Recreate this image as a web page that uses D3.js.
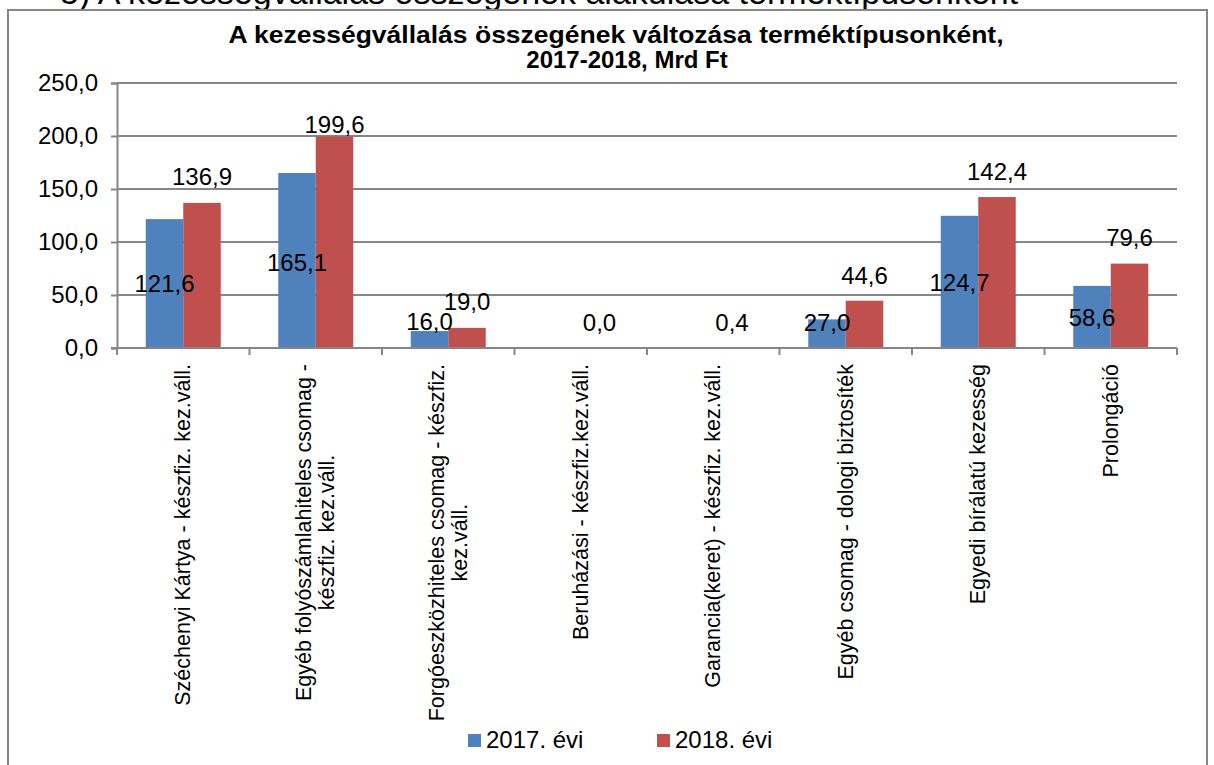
<!DOCTYPE html>
<html>
<head>
<meta charset="utf-8">
<script src="https://cdn.jsdelivr.net/npm/d3@7"></script>
<style>
  body { margin: 0; background: #fff; }
  text { font-family: "Liberation Sans", Arial, sans-serif; fill: #000; }
</style>
</head>
<body>
<div id="chart"></div>
<script>
"use strict";

const categories = [
  ["Széchenyi Kártya - készfiz. kez.váll."],
  ["Egyéb folyószámlahiteles csomag -", "készfiz. kez.váll."],
  ["Forgóeszközhiteles csomag - készfiz.", "kez.váll."],
  ["Beruházási - készfiz.kez.váll."],
  ["Garancia(keret) - készfiz. kez.váll."],
  ["Egyéb csomag - dologi biztosíték"],
  ["Egyedi bírálatú kezesség"],
  ["Prolongáció"]
];
const series = ["2017. évi", "2018. évi"];
const values2017 = [121.6, 165.1, 16.0, null, null, 27.0, 124.7, 58.6];
const values2018 = [136.9, 199.6, 19.0, 0.0, 0.4, 44.6, 142.4, 79.6];
const yTicks = [0, 50, 100, 150, 200, 250];

// the data labels were hand placed in the original, so keep where they sit (in axis units)
const labelAt2017 = [61, 81, 24.5, null, null, 23.5, 62, 29];
const labelAt2018 = [161.3, 210.4, 43.4, 23.6, 23.6, 67.9, 166, 103.8];

const colors = ["#4F81BD", "#C0504D"];
const fmt = v => d3.format(".1f")(v).replace(".", ",");

const width = 1214, height = 765;
const svg = d3.select("#chart")
  .append("svg")
  .attr("width", width)
  .attr("height", height);

svg.append("rect").attr("width", width).attr("height", height).attr("fill", "#fff");

// heading of the page, cut off by the top edge
svg.append("text")
  .attr("x", 60).attr("y", 4)
  .style("font-size", "34px")
  .text("5) A kezességvállalás összegének alakulása terméktípusonként");

// chart frame
svg.append("rect")
  .attr("x", 8).attr("y", 10)
  .attr("width", 1199).attr("height", 770)
  .attr("fill", "#fff")
  .attr("stroke", "#868686")
  .attr("stroke-width", 2);

const title = svg.append("text")
  .attr("text-anchor", "middle")
  .style("font-size", "24px")
  .style("font-weight", "bold");
title.append("tspan").attr("x", 616).attr("y", 43)
  .attr("textLength", 775)
  .attr("lengthAdjust", "spacingAndGlyphs")
  .text("A kezességvállalás összegének változása terméktípusonként,");
title.append("tspan").attr("x", 627).attr("y", 68)
  .text("2017-2018, Mrd Ft");

const x = d3.scaleBand()
  .domain(d3.range(categories.length))
  .range([117, 1177])
  .padding(0);

const xSub = d3.scaleBand()
  .domain([0, 1])
  .range([0, x.bandwidth()])
  .paddingOuter(0.767)
  .paddingInner(0);

const y = d3.scaleLinear()
  .domain([0, 250])
  .range([348, 83]);

// gridlines
svg.append("g")
  .selectAll("line")
  .data(yTicks)
  .enter()
  .append("line")
  .attr("x1", 117).attr("x2", 1177)
  .attr("y1", d => y(d)).attr("y2", d => y(d))
  .attr("stroke", "#868686")
  .attr("stroke-width", 2);

// y axis
const yAxis = svg.append("g")
  .attr("transform", "translate(117,0)")
  .call(d3.axisLeft(y).tickValues(yTicks).tickSize(6).tickPadding(13).tickFormat(fmt));
yAxis.select(".domain").attr("stroke", "#868686").attr("stroke-width", 2);
yAxis.selectAll(".tick line").attr("stroke", "#868686").attr("stroke-width", 2);
yAxis.selectAll(".tick text")
  .style("font-size", "24px")
  .attr("font-family", null)
  .attr("fill", "#000");

// bars
const rows = [values2017, values2018];
rows.forEach(function (vals, s) {
  svg.append("g")
    .selectAll("rect")
    .data(vals.map((v, i) => ({ i: i, v: v })).filter(d => d.v !== null))
    .enter()
    .append("rect")
    .attr("x", d => x(d.i) + xSub(s))
    .attr("width", xSub.bandwidth())
    .attr("y", d => y(d.v))
    .attr("height", d => y(0) - y(d.v))
    .attr("fill", colors[s]);
});

// x axis line with ticks between the categories
const xAxis = svg.append("g");
xAxis.append("line")
  .attr("x1", 111).attr("x2", 1177)
  .attr("y1", y(0)).attr("y2", y(0))
  .attr("stroke", "#868686").attr("stroke-width", 2);
xAxis.selectAll(".xtick")
  .data(d3.range(categories.length + 1))
  .enter()
  .append("line")
  .attr("class", "xtick")
  .attr("x1", d => 117 + d * x.step()).attr("x2", d => 117 + d * x.step())
  .attr("y1", y(0)).attr("y2", y(0) + 7)
  .attr("stroke", "#868686").attr("stroke-width", 2);

// rotated category labels
categories.forEach(function (lines, i) {
  const cx = x(i) + x.bandwidth() / 2;
  const g = svg.append("g");
  const texts = lines.map(function (line, k) {
    return g.append("text")
      .attr("text-anchor", "middle")
      .style("font-size", "21.5px")
      .text(line);
  });
  const maxLen = d3.max(texts, t => t.node().getComputedTextLength());
  const top = 364;
  texts.forEach(function (t, k) {
    const lx = cx + (k - (lines.length - 1) / 2) * 23 + 7;
    const ly = top + maxLen / 2;
    t.attr("transform", `translate(${lx},${ly}) rotate(-90)`);
  });
});

// data labels
[[values2017, labelAt2017], [values2018, labelAt2018]].forEach(function (pair, s) {
  const vals = pair[0], pos = pair[1];
  svg.append("g")
    .selectAll("text")
    .data(vals.map((v, i) => ({ i: i, v: v, p: pos[i] })).filter(d => d.v !== null))
    .enter()
    .append("text")
    .attr("text-anchor", "middle")
    .attr("dy", "0.35em")
    .attr("x", d => x(d.i) + xSub(s) + xSub.bandwidth() / 2)
    .attr("y", d => y(d.p))
    .style("font-size", "24px")
    .text(d => fmt(d.v));
});

// legend
const legendX = [468, 657];
series.forEach(function (name, s) {
  svg.append("rect")
    .attr("x", legendX[s]).attr("y", 734)
    .attr("width", 13).attr("height", 13)
    .attr("fill", colors[s]);
  svg.append("text")
    .attr("x", legendX[s] + 18).attr("y", 740)
    .attr("dy", "0.35em")
    .style("font-size", "24px")
    .text(name);
});
</script>
</body>
</html>
